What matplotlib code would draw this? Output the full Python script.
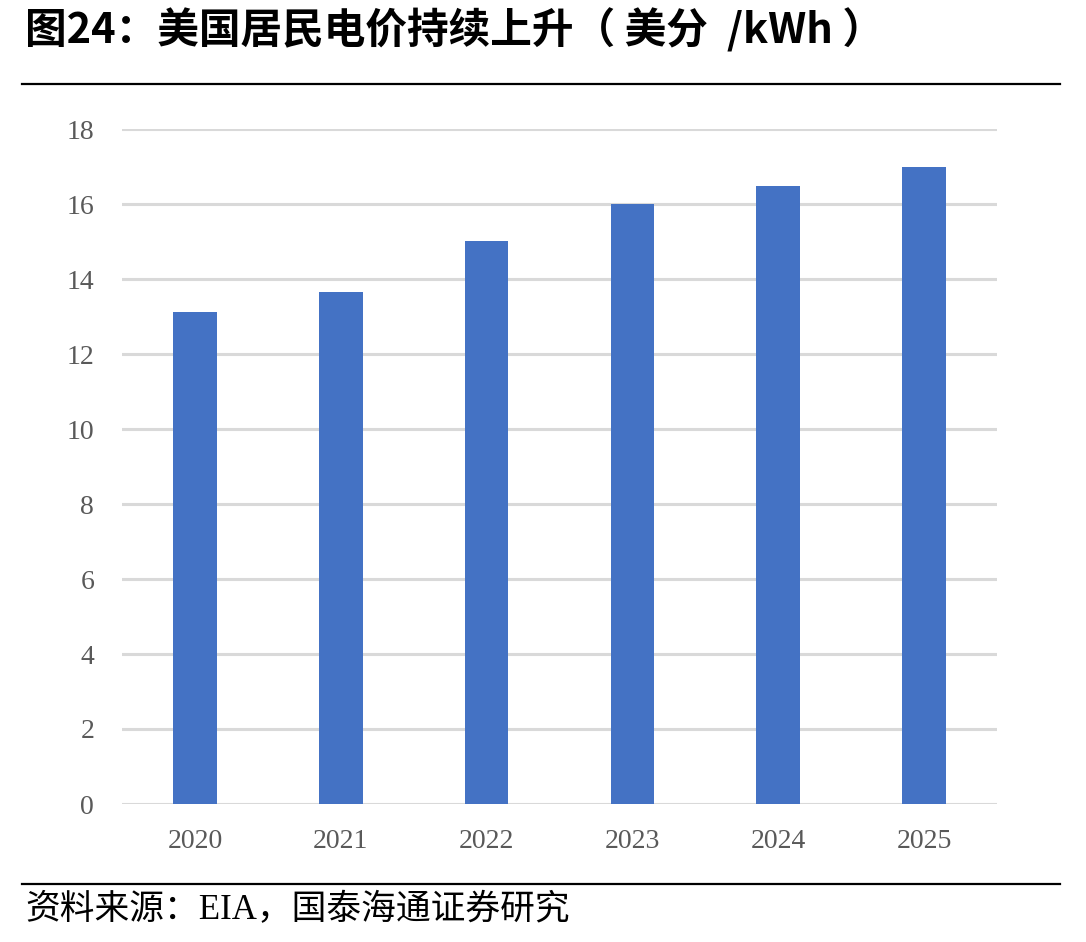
import matplotlib.pyplot as plt
from matplotlib.lines import Line2D

years = ['2020', '2021', '2022', '2023', '2024', '2025']
price = [13.12, 13.65, 15.01, 16.0, 16.48, 16.99]  # 美分/kWh
yticks = [0, 2, 4, 6, 8, 10, 12, 14, 16, 18]

title = '图24：美国居民电价持续上升（ 美分  /kWh ）'
source = '资料来源：EIA，国泰海通证券研究'

plt.rcParams['font.family'] = ['Noto Sans CJK SC', 'DejaVu Sans']

fig = plt.figure(figsize=(10.86, 9.42), dpi=100)
ax = fig.add_axes([122 / 1086, 1 - 804 / 942, 875 / 1086, 675 / 942])

x = range(len(years))
ax.bar(x, price, width=0.3, color='#4472C4', zorder=3)

ax.set_xlim(-0.5, len(years) - 0.5)
ax.set_ylim(0, 18)
ax.set_yticks(yticks)
ax.set_xticks(list(x))
ax.set_xticklabels(years)
ax.grid(axis='y', color='#d9d9d9', linewidth=2.2, zorder=0)
ax.tick_params(length=0, colors='#595959', labelsize=20)
ax.tick_params(axis='y', pad=20)
ax.tick_params(axis='x', pad=18)
for lab in ax.get_xticklabels() + ax.get_yticklabels():
    lab.set_family('Liberation Serif')
for s in ax.spines.values():
    s.set_visible(False)

fig.text(25 / 1086, 1 - 30 / 942, title, fontsize=30, fontweight='bold',
         va='center', ha='left', color='black')
fig.text(25 / 1086, 1 - 911 / 942, source, fontsize=25,
         family=['Liberation Serif', 'Noto Sans CJK SC'],
         va='center', ha='left', color='black')

fig.add_artist(Line2D([22 / 1086, 1060 / 1086], [1 - 84 / 942] * 2,
                      color='black', linewidth=1.6))
fig.add_artist(Line2D([22 / 1086, 1060 / 1086], [1 - 884 / 942] * 2,
                      color='black', linewidth=1.6))

fig.savefig('out.png', dpi=100)
